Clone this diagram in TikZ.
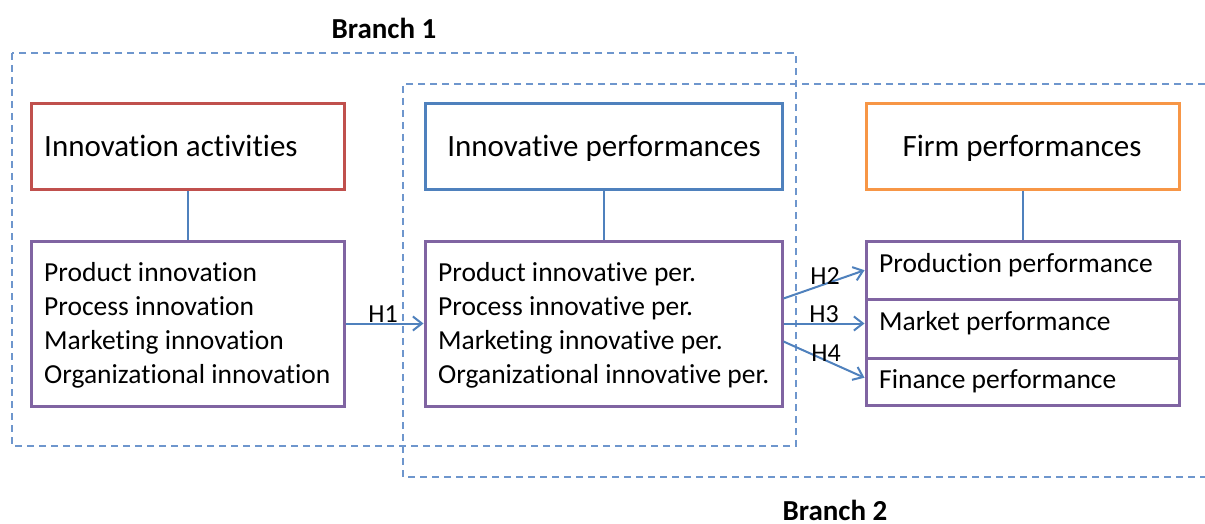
\documentclass[tikz,border=0pt]{standalone}
\usepackage{fontspec}
\setmainfont{Carlito}[Ligatures=NoCommon]
\usetikzlibrary{arrows.meta}
\definecolor{cred}{RGB}{192,80,77}
\definecolor{cblue}{RGB}{79,129,189}
\definecolor{corange}{RGB}{247,150,70}
\definecolor{cpurple}{RGB}{128,100,162}
\definecolor{cdash}{RGB}{110,150,205}
\begin{document}
\begin{tikzpicture}[x=1pt,y=-1pt,
  box/.style={draw, line width=3pt, inner sep=0pt},
  titletext/.style={font=\fontsize{31}{37}\selectfont, inner sep=0pt},
  body/.style={font=\fontsize{27.5}{33.7}\selectfont, align=left, inner sep=0pt},
  conn/.style={draw=cblue, line width=2pt},
  arr/.style={conn, -{Straight Barb[length=9pt,width=14pt]}},
  hlab/.style={font=\fontsize{26}{30}\selectfont, inner sep=0pt},
  branchline/.style={dash pattern=on 7pt off 5pt, draw=cdash, line width=2pt},
  blabel/.style={font=\bfseries\fontsize{29}{34}\selectfont, inner sep=0pt}]
\useasboundingbox (0,0) rectangle (1205,524);
\fill[white] (0,0) rectangle (1205,524);
% branch frames
\draw[branchline] (12,53) rectangle (796,446);
\draw[branchline] (1205,84) -- (403,84) -- (403,477) -- (1205,477);
\node[blabel] (b1) at (384,28) {Branch 1};
\node[blabel] (b2) at (835,510) {Branch 2};
% header boxes
\node[box, draw=cred, minimum width=313, minimum height=85] (ia) at (187.5,146.5) {};
\node[box, draw=cblue, minimum width=357, minimum height=85] (ip) at (603.5,146.5) {};
\node[box, draw=corange, minimum width=313, minimum height=85] (fp) at (1022.5,146.5) {};
\node[titletext, anchor=base west] (iat) at (44,157) {Innovation activities};
\node[titletext, anchor=base] (ipt) at (604,157) {Innovative performances};
\node[titletext, anchor=base] (fpt) at (1022,157) {Firm performances};
% content boxes
\node[box, draw=cpurple, minimum width=313, minimum height=165] (lb) at (187.5,323.5) {};
\node[box, draw=cpurple, minimum width=357, minimum height=165] (mb) at (603.5,323.5) {};
\node[box, draw=cpurple, minimum width=313, minimum height=57.5] (prod) at (1022.5,270.25) {};
\node[box, draw=cpurple, minimum width=313, minimum height=59] (mkt) at (1022.5,328.5) {};
\node[box, draw=cpurple, minimum width=313, minimum height=47.5] (fin) at (1022.5,381.75) {};
\node[body, anchor=base west] (lbt) at (44,383) {Product innovation\\Process innovation\\Marketing innovation\\Organizational innovation};
\node[body, anchor=base west] (mbt) at (438,383) {Product innovative per.\\Process innovative per.\\Marketing innovative per.\\Organizational innovative per.};
\node[body, anchor=base west] (prodt) at (879,272) {Production performance};
\node[body, anchor=base west] (mktt) at (879,330) {Market performance};
\node[body, anchor=base west] (fint) at (879,388) {Finance performance};
% connectors
\draw[conn] (ia.south) -- (lb.north);
\draw[conn] (ip.south) -- (mb.north);
\draw[conn] (fp.south) -- (prod.north);
\draw[arr] (lb.east) -- (mb.west);
\coordinate (h2s) at ([yshift=25pt]mb.east);
\coordinate (h4s) at ([yshift=-18pt]mb.east);
\coordinate (h4e) at ([yshift=4pt]fin.west);
\draw[arr] (h2s) -- (prod.west);
\draw[arr] (mb.east) -- (mb.east -| mkt.west);
\draw[arr] (h4s) -- (h4e);
\node[hlab] (h1) at (383,314) {H1};
\node[hlab] (h2) at (825,276) {H2};
\node[hlab] (h3) at (824,314) {H3};
\node[hlab] (h4) at (826,353) {H4};
\end{tikzpicture}
\end{document}
